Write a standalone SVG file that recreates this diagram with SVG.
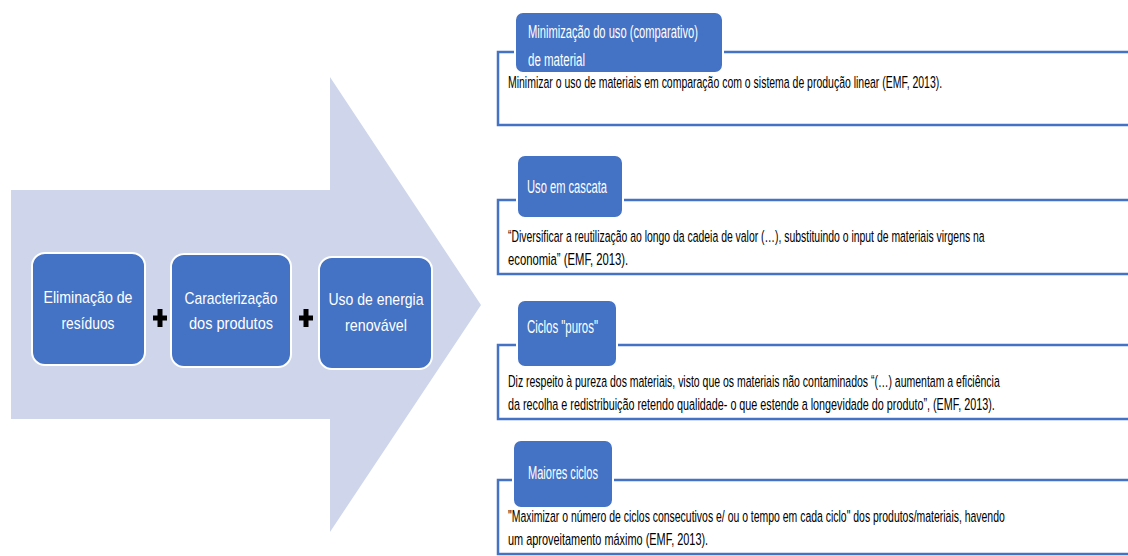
<svg xmlns="http://www.w3.org/2000/svg" width="1128" height="556" viewBox="0 0 1128 556">
  <style>
    .arrow { fill: #cfd6eb; }
    .step { fill: #4472c4; stroke: #ffffff; stroke-width: 2; }
    .step-text { font-family: "Liberation Sans", Arial, sans-serif; font-size: 17px; fill: #ffffff; text-anchor: middle; }
    .plus { fill: #000000; }
    .panel { fill: #ffffff; stroke: #4472c4; stroke-width: 2.5; }
    .tab { fill: #4472c4; stroke: #ffffff; stroke-width: 2; }
    .tab-text { font-family: "Liberation Sans", Arial, sans-serif; font-size: 17.5px; fill: #ffffff; }
    .body-text { font-family: "Liberation Sans", Arial, sans-serif; font-size: 16.5px; fill: #000000; }
  </style>

  <!-- large background arrow -->
  <g id="main-arrow">
    <polygon class="arrow" points="11,190 330,190 330,77 481,305 330,532 330,419 11,419"/>
  </g>

  <!-- the three combined steps -->
  <g id="step-eliminacao">
    <rect class="step" x="32" y="253" width="113" height="112" rx="13"/>
    <text class="step-text" x="88" y="303" textLength="89" lengthAdjust="spacingAndGlyphs">Eliminação de</text>
    <text class="step-text" x="88" y="329" textLength="53" lengthAdjust="spacingAndGlyphs">resíduos</text>
  </g>
  <g id="step-caracterizacao">
    <rect class="step" x="171" y="254" width="120" height="113" rx="13"/>
    <text class="step-text" x="231" y="304" textLength="93" lengthAdjust="spacingAndGlyphs">Caracterização</text>
    <text class="step-text" x="231" y="329" textLength="84" lengthAdjust="spacingAndGlyphs">dos produtos</text>
  </g>
  <g id="step-energia">
    <rect class="step" x="319" y="257" width="113" height="112" rx="13"/>
    <text class="step-text" x="376" y="305" textLength="95" lengthAdjust="spacingAndGlyphs">Uso de energia</text>
    <text class="step-text" x="376" y="331" textLength="62" lengthAdjust="spacingAndGlyphs">renovável</text>
  </g>

  <!-- plus signs joining the steps -->
  <g id="connectors">
    <path class="plus" d="M157.5,309 h5 v6.5 h4.5 v5 h-4.5 v6.5 h-5 v-6.5 h-4.5 v-5 h4.5 z"/>
    <path class="plus" d="M303.5,309 h5 v6.5 h4.5 v5 h-4.5 v6.5 h-5 v-6.5 h-4.5 v-5 h4.5 z"/>
  </g>

  <!-- principle panels; body lines are drawn in a horizontally condensed frame -->
  <g id="panel-minimizacao">
    <rect class="panel" x="498" y="52" width="660" height="73"/>
    <rect class="tab" x="515" y="12" width="208" height="61" rx="8"/>
    <text class="tab-text" x="528" y="38" textLength="170" lengthAdjust="spacingAndGlyphs">Minimização do uso (comparativo)</text>
    <text class="tab-text" x="528" y="66" textLength="57" lengthAdjust="spacingAndGlyphs">de material</text>
    <g transform="matrix(0.72 0 0 1 508 0)">
      <text class="body-text" x="0" y="88" textLength="603" lengthAdjust="spacingAndGlyphs">Minimizar o uso de materiais em comparação com o sistema de produção linear (EMF, 2013).</text>
    </g>
  </g>

  <g id="panel-cascata">
    <rect class="panel" x="498" y="200" width="660" height="74"/>
    <rect class="tab" x="517" y="155" width="106" height="63" rx="8"/>
    <text class="tab-text" x="527" y="193" textLength="80" lengthAdjust="spacingAndGlyphs">Uso em cascata</text>
    <g transform="matrix(0.72 0 0 1 508 0)">
      <text class="body-text" x="0" y="242" textLength="662" lengthAdjust="spacingAndGlyphs">“Diversificar a reutilização ao longo da cadeia de valor (…), substituindo o input de materiais virgens na</text>
      <text class="body-text" x="0" y="265" textLength="167" lengthAdjust="spacingAndGlyphs">economia” (EMF, 2013).</text>
    </g>
  </g>

  <g id="panel-puros">
    <rect class="panel" x="498" y="345" width="660" height="74"/>
    <rect class="tab" x="517" y="300" width="100" height="67" rx="8"/>
    <text class="tab-text" x="527" y="333" textLength="71" lengthAdjust="spacingAndGlyphs">Ciclos "puros"</text>
    <g transform="matrix(0.72 0 0 1 508 0)">
      <text class="body-text" x="0" y="387" textLength="683" lengthAdjust="spacingAndGlyphs">Diz respeito à pureza dos materiais, visto que os materiais não contaminados “(…) aumentam a eficiência</text>
      <text class="body-text" x="0" y="410" textLength="676" lengthAdjust="spacingAndGlyphs">da recolha e redistribuição retendo qualidade- o que estende a longevidade do produto”, (EMF, 2013).</text>
    </g>
  </g>

  <g id="panel-maiores">
    <rect class="panel" x="498" y="480" width="660" height="74"/>
    <rect class="tab" x="513" y="440" width="100" height="68" rx="8"/>
    <text class="tab-text" x="528" y="479" textLength="70" lengthAdjust="spacingAndGlyphs">Maiores ciclos</text>
    <g transform="matrix(0.72 0 0 1 508 0)">
      <text class="body-text" x="0" y="522" textLength="690" lengthAdjust="spacingAndGlyphs">"Maximizar o número de ciclos consecutivos e/ ou o tempo em cada ciclo" dos produtos/materiais, havendo</text>
      <text class="body-text" x="0" y="545" textLength="278" lengthAdjust="spacingAndGlyphs">um aproveitamento máximo (EMF, 2013).</text>
    </g>
  </g>
</svg>
